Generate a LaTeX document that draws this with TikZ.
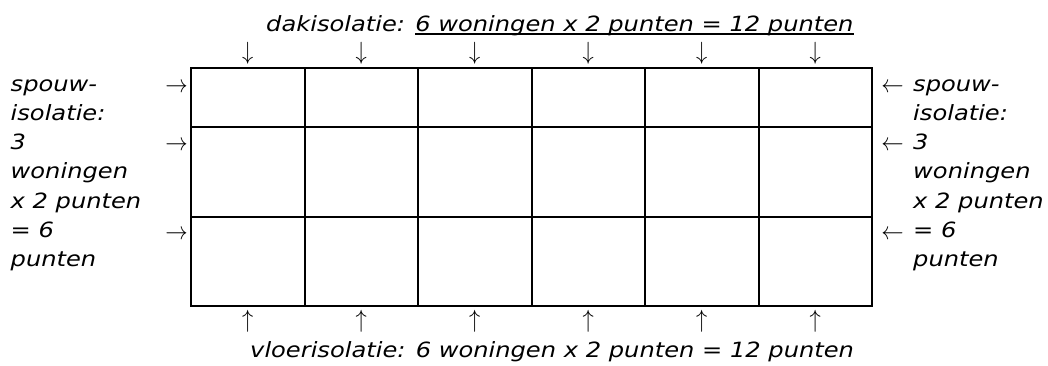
\documentclass[tikz,border=0pt]{standalone}
\usepackage{fontspec}
\usepackage{graphicx}
\setmainfont{DejaVu Sans}[ItalicFont={DejaVu Sans Oblique}]
\newcommand\myul[1]{\setbox0\hbox{#1}\rlap{\rule[-2.8pt]{\wd0}{1.3pt}}\box0}
\newcommand\sx[1]{\scalebox{1.15}[1]{#1}}
\begin{document}
\begin{tikzpicture}[x=1pt,y=-1pt,
  lbl/.style={inner sep=0pt, anchor=base west, font=\fontsize{21}{29}\selectfont\itshape},
  glyph/.style={inner sep=0pt, font=\fontsize{23.5}{26}\selectfont},
  gridline/.style={line width=2pt}]
\useasboundingbox (0,0) rectangle (1048,365);
% grid
\draw[gridline] (191,67.5) rectangle (872,305.5);
\foreach \x in {304.5,418,531.5,645,758.5}
  \draw[gridline] (\x,67.5) -- (\x,305.5);
\foreach \y in {126.5,216.5}
  \draw[gridline] (191,\y) -- (872,\y);
% top and bottom arrows
\foreach \x [count=\i] in {247.75,361.25,474.75,588.25,701.75,815.25}{
  \node[glyph] (down\i) at (\x,53.5) {\scalebox{0.9}[1]{$\downarrow$}};
  \node[glyph] (up\i) at (\x,321) {\scalebox{0.9}[1]{$\uparrow$}};
}
% side arrows
\foreach \y [count=\i] in {87.5,146,234.5}{
  \node[glyph] (right\i) at (176.5,\y) {\scalebox{0.9}[1]{$\rightarrow$}};
  \node[glyph] (left\i) at (892.5,\y) {\scalebox{0.9}[1]{$\leftarrow$}};
}
% titles
\node[lbl] (top) at (266,31.7) {\sx{dakisolatie: \myul{6 woningen x 2 punten = 12 punten}}};
\node[lbl] (bot) at (250,357) {\sx{vloerisolatie: 6 woningen x 2 punten = 12 punten}};
% side texts
\foreach \t [count=\i from 0] in {spouw-,isolatie:,3,woningen,x 2 punten,= 6,punten}{
  \node[lbl] (ltxt\i) at (10.5,{91+29.3*\i}) {\sx{\t}};
  \node[lbl] (rtxt\i) at (913,{91+29.3*\i}) {\sx{\t}};
}
\end{tikzpicture}
\end{document}
